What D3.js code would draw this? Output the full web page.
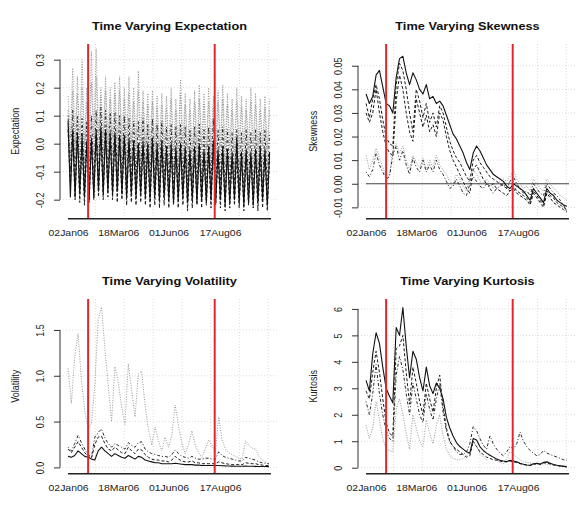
<!DOCTYPE html>
<html>
<head>
<meta charset="utf-8">
<script src="https://cdn.jsdelivr.net/npm/d3@7"></script>
<style>
  body { margin: 0; background: #fff; }
  text { font-family: "Liberation Sans", Arial, Helvetica, sans-serif; }
</style>
</head>
<body>
<svg id="canvas" width="580" height="521"></svg>
<script>
// dates
let startDate = "2006-01-02";
let endDate = "2006-11-01";
let tickDates = ["2006-01-02", "2006-03-18", "2006-06-01", "2006-08-17"];
let eventDates = ["2006-02-01", "2006-08-09"];
let gridDays = [41, 84, 127, 170, 213, 256, 299];

// spacing of the observations, in days
let expStep = 3.5;
let momentStep = 5;

// axis ticks and visible ranges
let expTicks = [-0.2, -0.1, 0, 0.1, 0.2, 0.3];
let skewTicks = [-0.01, 0, 0.01, 0.02, 0.03, 0.04, 0.05];
let volTicks = [0, 0.5, 1, 1.5];
let kurtTicks = [0, 1, 2, 3, 4, 5, 6];
let expRange = [-0.268, 0.356];
let skewRange = [-0.0148, 0.0592];
let volRange = [-0.069, 1.838];
let kurtRange = [-0.227, 6.375];

// expectation (weekly swings)
let expSolid = [
  0.08, -0.19, 0.05, -0.19, 0.04, -0.18, 0.03, -0.19, 0.01, -0.20,
  0.02, -0.19, 0.05, -0.17, 0.06, -0.18, 0.05, -0.17, 0.04, -0.18,
  0.04, -0.17, 0.03, -0.18, 0.03, -0.19, 0.02, -0.18, 0.01, -0.19,
  0.00, -0.18, 0.01, -0.19, 0.00, -0.20, 0.02, -0.19, 0.00, -0.20,
  0.01, -0.19, -0.01, -0.20, 0.00, -0.21, -0.01, -0.20, 0.00, -0.19,
  -0.01, -0.21, -0.02, -0.20, -0.01, -0.21, 0.00, -0.20, -0.02, -0.21,
  -0.01, -0.20, 0.01, -0.21, -0.02, -0.20, -0.01, -0.22, -0.02, -0.21,
  -0.03, -0.20, 0.02, -0.21, -0.03, -0.22, -0.02, -0.21, -0.03, -0.22,
  -0.02, -0.21, -0.01, -0.20, -0.02, -0.22, -0.03
];
let expDashed = [
  0.05, -0.15, 0.03, -0.20, 0.02, -0.21, 0.00, -0.22, -0.01, -0.21,
  0.01, -0.20, 0.03, -0.19, 0.04, -0.20, 0.03, -0.19, 0.02, -0.20,
  0.03, -0.21, 0.01, -0.20, 0.02, -0.22, 0.00, -0.21, -0.01, -0.22,
  0.00, -0.21, -0.01, -0.22, -0.02, -0.23, 0.00, -0.22, -0.02, -0.23,
  -0.01, -0.22, -0.03, -0.23, -0.02, -0.22, -0.03, -0.23, -0.02, -0.22,
  -0.03, -0.24, -0.04, -0.23, -0.03, -0.22, -0.02, -0.23, -0.04, -0.22,
  -0.03, -0.23, 0.00, -0.22, -0.04, -0.23, -0.03, -0.24, -0.04, -0.23,
  -0.05, -0.22, -0.04, -0.23, -0.05, -0.24, -0.04, -0.22, -0.05, -0.23,
  -0.04, -0.24, -0.05, -0.23, -0.04, -0.24, -0.05
];
let expDotDash = [
  0.10, -0.10, 0.12, -0.12, 0.10, -0.13, 0.09, -0.14, 0.08, -0.15,
  0.10, -0.13, 0.12, -0.11, 0.13, -0.12, 0.12, -0.11, 0.11, -0.12,
  0.11, -0.11, 0.10, -0.12, 0.10, -0.13, 0.09, -0.12, 0.08, -0.13,
  0.08, -0.12, 0.09, -0.13, 0.07, -0.14, 0.09, -0.13, 0.07, -0.14,
  0.08, -0.13, 0.06, -0.14, 0.07, -0.15, 0.06, -0.14, 0.07, -0.13,
  0.06, -0.15, 0.05, -0.14, 0.06, -0.15, 0.07, -0.14, 0.05, -0.15,
  0.06, -0.14, 0.09, -0.15, 0.05, -0.14, 0.06, -0.16, 0.05, -0.15,
  0.04, -0.14, 0.05, -0.15, 0.04, -0.16, 0.05, -0.15, 0.04, -0.16,
  0.05, -0.15, 0.04, -0.16, 0.05, -0.15, 0.04
];
let expDotted1 = [
  0.17, 0.02, 0.27, 0.00, 0.24, 0.01, 0.30, -0.01, 0.20, 0.00,
  0.33, 0.02, 0.34, 0.03, 0.20, 0.02, 0.24, 0.01, 0.20, 0.02,
  0.22, 0.01, 0.24, 0.00, 0.20, 0.01, 0.24, 0.00, 0.20, -0.01,
  0.26, 0.00, 0.19, -0.01, 0.18, -0.02, 0.19, -0.01, 0.17, -0.02,
  0.18, -0.01, 0.17, -0.02, 0.20, -0.03, 0.16, -0.02, 0.23, -0.01,
  0.18, -0.02, 0.16, -0.03, 0.19, -0.02, 0.21, -0.01, 0.18, -0.02,
  0.20, -0.01, 0.17, -0.02, 0.19, -0.01, 0.21, -0.02, 0.18, -0.01,
  0.16, -0.03, 0.20, -0.02, 0.17, -0.01, 0.16, -0.02, 0.20, -0.01,
  0.18, -0.02, 0.16, -0.01, 0.17, -0.02, 0.16
];
let expDotted2 = [
  0.12, -0.05, 0.19, -0.06, 0.18, -0.05, 0.20, -0.07, 0.15, -0.06,
  0.22, -0.04, 0.24, -0.03, 0.17, -0.04, 0.19, -0.05, 0.16, -0.04,
  0.18, -0.05, 0.19, -0.06, 0.16, -0.05, 0.18, -0.06, 0.15, -0.07,
  0.19, -0.06, 0.15, -0.07, 0.14, -0.08, 0.15, -0.07, 0.13, -0.08,
  0.14, -0.07, 0.13, -0.08, 0.16, -0.09, 0.12, -0.08, 0.18, -0.07,
  0.14, -0.08, 0.12, -0.09, 0.15, -0.08, 0.16, -0.07, 0.14, -0.08,
  0.15, -0.07, 0.13, -0.08, 0.15, -0.07, 0.16, -0.08, 0.14, -0.07,
  0.12, -0.09, 0.15, -0.08, 0.13, -0.07, 0.12, -0.08, 0.15, -0.07,
  0.14, -0.08, 0.12, -0.07, 0.13, -0.08, 0.12
];

// skewness
let skewSolid = [
  0.038, 0.034, 0.037, 0.046, 0.048, 0.041, 0.034, 0.033, 0.030, 0.045,
  0.053, 0.054, 0.047, 0.042, 0.047, 0.044, 0.040, 0.038, 0.042, 0.036,
  0.037, 0.034, 0.035, 0.033, 0.029, 0.025, 0.021, 0.019, 0.016, 0.013,
  0.009, 0.006, 0.013, 0.016, 0.014, 0.011, 0.008, 0.006, 0.004, 0.003,
  0.002, 0.001, -0.001, -0.002, 0.000, -0.001, -0.002, -0.003, -0.005, -0.007,
  -0.002, -0.004, -0.006, -0.008, -0.002, -0.004, -0.005, -0.007, -0.008, -0.009,
  -0.0095
];
let skewDashed1 = [
  0.034, 0.028, 0.036, 0.042, 0.036, 0.027, 0.020, 0.017, 0.016, 0.042,
  0.051, 0.048, 0.040, 0.030, 0.022, 0.040, 0.035, 0.028, 0.034, 0.026,
  0.030, 0.024, 0.033, 0.030, 0.024, 0.018, 0.014, 0.011, 0.009, 0.006,
  0.003, 0.001, 0.010, 0.012, 0.009, 0.007, 0.005, 0.003, 0.002, 0.001,
  0.000, -0.001, -0.002, -0.003, -0.001, -0.003, -0.004, -0.005, -0.006, -0.008,
  -0.003, -0.005, -0.007, -0.009, -0.003, -0.005, -0.006, -0.008, -0.009, -0.010,
  -0.011
];
let skewDashed2 = [
  0.030, 0.026, 0.030, 0.040, 0.030, 0.022, 0.016, 0.013, 0.012, 0.035,
  0.046, 0.040, 0.030, 0.022, 0.018, 0.036, 0.030, 0.024, 0.029, 0.022,
  0.025, 0.020, 0.030, 0.027, 0.020, 0.014, 0.010, 0.007, 0.004, 0.001,
  -0.002, -0.004, 0.006, 0.008, 0.005, 0.002, 0.000, -0.001, 0.000, -0.002,
  -0.003, -0.004, -0.005, -0.003, -0.002, -0.004, -0.005, -0.006, -0.007, -0.009,
  -0.004, -0.006, -0.008, -0.010, -0.004, -0.006, -0.008, -0.009, -0.010, -0.011,
  -0.012
];
let skewDotted = [
  0.012, 0.006, 0.010, 0.015, 0.011, 0.007, 0.003, 0.004, 0.014, 0.017,
  0.013, 0.016, 0.010, 0.006, 0.012, 0.009, 0.007, 0.011, 0.006, 0.010,
  0.007, 0.012, 0.008, 0.006, 0.004, 0.001, 0.000, 0.004, 0.002, -0.001,
  -0.003, 0.003, 0.006, 0.004, 0.001, 0.000, 0.002, 0.000, -0.002, 0.000,
  0.001, 0.002, 0.001, 0.003, 0.006, 0.002, 0.000, -0.002, -0.001, -0.003,
  0.002, 0.000, -0.002, -0.003, 0.002, 0.000, -0.002, -0.003, -0.005, -0.006,
  -0.007
];
let skewDotDash = [
  0.005, 0.003, 0.006, 0.013, 0.008, 0.005, 0.002, 0.003, 0.012, 0.016,
  0.010, 0.014, 0.008, 0.004, 0.011, 0.007, 0.005, 0.010, 0.005, 0.008,
  0.005, 0.010, 0.006, 0.004, 0.001, -0.002, -0.001, 0.002, -0.001, -0.004,
  -0.005, 0.000, 0.003, 0.001, -0.001, -0.002, 0.000, -0.002, -0.004, -0.002,
  -0.001, 0.000, -0.002, 0.001, 0.003, 0.000, -0.002, -0.004, -0.003, -0.005,
  0.000, -0.002, -0.004, -0.005, 0.000, -0.002, -0.004, -0.005, -0.007, -0.009,
  -0.012
];

// volatility
let volSolid = [
  0.12, 0.11, 0.13, 0.18, 0.15, 0.12, 0.11, 0.09, 0.08, 0.18,
  0.22, 0.18, 0.15, 0.12, 0.15, 0.13, 0.11, 0.10, 0.13, 0.11,
  0.09, 0.12, 0.11, 0.08, 0.07, 0.06, 0.05, 0.05, 0.04, 0.04,
  0.04, 0.04, 0.045, 0.04, 0.035, 0.03, 0.03, 0.03, 0.025, 0.025,
  0.02, 0.02, 0.02, 0.02, 0.02, 0.02, 0.018, 0.016, 0.015, 0.014,
  0.013, 0.012, 0.012, 0.014, 0.013, 0.012, 0.011, 0.01, 0.01, 0.009,
  0.008
];
let volDashed = [
  0.20, 0.16, 0.22, 0.28, 0.22, 0.16, 0.12, 0.10, 0.25, 0.33,
  0.34, 0.26, 0.20, 0.18, 0.22, 0.19, 0.16, 0.15, 0.22, 0.18,
  0.15, 0.20, 0.19, 0.14, 0.11, 0.09, 0.08, 0.08, 0.07, 0.07,
  0.06, 0.08, 0.12, 0.09, 0.07, 0.06, 0.06, 0.07, 0.05, 0.05,
  0.04, 0.04, 0.04, 0.04, 0.04, 0.06, 0.05, 0.04, 0.035, 0.03,
  0.03, 0.03, 0.03, 0.05, 0.045, 0.04, 0.04, 0.03, 0.025, 0.02,
  0.02
];
let volDotDash = [
  0.22, 0.18, 0.26, 0.35, 0.27, 0.20, 0.14, 0.11, 0.33, 0.38,
  0.42, 0.32, 0.26, 0.22, 0.26, 0.24, 0.22, 0.20, 0.27, 0.24,
  0.22, 0.27, 0.28, 0.20, 0.17, 0.15, 0.14, 0.13, 0.12, 0.12,
  0.11, 0.14, 0.19, 0.15, 0.12, 0.11, 0.10, 0.12, 0.10, 0.09,
  0.09, 0.10, 0.10, 0.09, 0.09, 0.17, 0.13, 0.11, 0.10, 0.09,
  0.08, 0.07, 0.07, 0.11, 0.10, 0.09, 0.08, 0.06, 0.05, 0.045,
  0.04
];
let volDotted = [
  1.08, 0.70, 1.21, 1.46, 0.95, 0.62, 0.42, 0.48, 0.90, 1.62,
  1.75, 1.30, 0.90, 0.50, 1.10, 0.93, 0.66, 0.47, 1.13, 0.84,
  0.55, 1.02, 1.05, 0.68, 0.42, 0.24, 0.44, 0.29, 0.18, 0.33,
  0.22, 0.35, 0.68, 0.45, 0.26, 0.15, 0.25, 0.40, 0.24, 0.16,
  0.11, 0.20, 0.30, 0.24, 0.16, 0.55, 0.30, 0.20, 0.16, 0.14,
  0.12, 0.10, 0.09, 0.29, 0.24, 0.21, 0.20, 0.12, 0.08, 0.06,
  0.03
];

// kurtosis
let kurtSolid = [
  3.3, 2.9, 4.3, 5.1, 4.7, 3.8, 3.0, 2.7, 2.45, 5.3,
  5.0, 6.05, 4.6, 3.4, 4.4, 4.1, 3.4, 2.9, 3.8, 3.1,
  2.8, 3.2, 3.0, 2.6, 1.9, 1.5, 1.2, 0.95, 0.8, 0.7,
  0.6, 0.55, 1.1, 1.05, 0.8, 0.65, 0.55, 0.47, 0.4, 0.33,
  0.28, 0.25, 0.23, 0.28, 0.25, 0.22, 0.17, 0.13, 0.1, 0.09,
  0.15, 0.17, 0.14, 0.2, 0.22, 0.17, 0.12, 0.09, 0.07, 0.05,
  0.03
];
let kurtDashed = [
  2.9, 2.6, 3.6, 4.4, 3.6, 2.6, 1.7, 1.3, 1.2, 4.5,
  4.6, 5.0, 3.6, 2.4, 3.8, 3.2, 2.5, 2.0, 3.2, 2.6,
  2.1, 3.0, 3.5, 2.3, 1.5, 1.0, 0.8, 0.7, 0.6, 0.5,
  0.4, 0.45, 1.0, 0.8, 0.6, 0.5, 0.4, 0.35, 0.3, 0.28,
  0.25, 0.22, 0.22, 0.25, 0.22, 0.2, 0.15, 0.12, 0.1, 0.08,
  0.12, 0.15, 0.12, 0.18, 0.18, 0.14, 0.1, 0.08, 0.06, 0.05,
  0.04
];
let kurtDotDash = [
  2.5, 2.0, 2.8, 3.9, 2.8, 2.0, 1.4, 1.1, 1.0, 3.5,
  4.2, 3.7, 2.8, 2.0, 3.2, 2.6, 2.0, 1.7, 2.8, 2.2,
  1.8, 2.6, 3.2, 2.1, 1.4, 1.0, 0.8, 0.6, 0.5, 0.5,
  0.6, 0.9, 1.55, 1.4, 1.1, 0.85, 0.7, 1.2, 0.9, 0.7,
  0.55, 0.45, 0.6, 0.8, 0.7, 0.9, 1.35, 1.0, 0.8, 0.65,
  0.55, 0.45, 0.5, 0.65, 0.55, 0.5, 0.45, 0.4, 0.35, 0.3,
  0.28
];
let kurtDotted = [
  1.6, 1.1, 1.5, 2.5, 1.8, 1.1, 0.7, 0.65, 0.6, 2.2,
  2.6, 2.0, 1.3, 0.7, 2.0, 1.5, 1.0, 0.8, 1.8, 1.3,
  0.9, 1.6, 2.0, 1.2, 0.7, 0.45, 0.35, 0.3, 0.3, 0.35,
  0.45, 0.6, 1.0, 0.8, 0.55, 0.4, 0.3, 0.5, 0.4, 0.3,
  0.2, 0.15, 0.35, 0.6, 0.5, 0.4, 0.3, 0.22, 0.2, 0.18,
  0.15, 0.12, 0.12, 0.15, 0.13, 0.12, 0.1, 0.09, 0.08, 0.07,
  0.06
];

let canvas = d3.select("#canvas");
let parseDate = d3.utcParse("%Y-%m-%d");
let day0 = parseDate(startDate);
let toDate = (d) => new Date(day0.getTime() + d * 864e5);
let lastDay = (parseDate(endDate) - day0) / 864e5;

let lineStyles = {
  solid: { dash: null, color: "#111", width: 1.1 },
  dashed: { dash: "3,2", color: "#1a1a1a", width: 1 },
  dotdash: { dash: "1,2,3,2", color: "#2a2a2a", width: 1 },
  dotted: { dash: "1,1.5", color: "#8c8c8c", width: 0.9 }
};

let plotW = 219;
let plotH = 174.7;
let stretch = "scale(1.16,1)";

let panels = [
  {
    title: "Time Varying Expectation", ylab: "Expectation", left: 60, top: 44,
    step: expStep, range: expRange, ticks: expTicks, fmt: ".1f", zero: false,
    series: [[expDotted1, "dotted"], [expDotted2, "dotted"], [expDotDash, "dotdash"],
             [expDashed, "dashed"], [expSolid, "solid"]]
  },
  {
    title: "Time Varying Skewness", ylab: "Skewness", left: 358, top: 44,
    step: momentStep, range: skewRange, ticks: skewTicks, fmt: ".2f", zero: true,
    series: [[skewDotted, "dotted"], [skewDotDash, "dotdash"], [skewDashed2, "dashed"],
             [skewDashed1, "dashed"], [skewSolid, "solid"]]
  },
  {
    title: "Time Varying Volatility", ylab: "Volatility", left: 60, top: 299,
    step: momentStep, range: volRange, ticks: volTicks, fmt: ".1f", zero: false,
    series: [[volDotted, "dotted"], [volDotDash, "dotdash"], [volDashed, "dashed"],
             [volSolid, "solid"]]
  },
  {
    title: "Time Varying Kurtosis", ylab: "Kurtosis", left: 358, top: 299,
    step: momentStep, range: kurtRange, ticks: kurtTicks, fmt: "d", zero: false,
    series: [[kurtDotted, "dotted"], [kurtDotDash, "dotdash"], [kurtDashed, "dashed"],
             [kurtSolid, "solid"]]
  }
];

let drawPanel = (panel) => {
  let g = canvas.append("g");
  let bottom = panel.top + plotH;

  let x = d3.scaleUtc()
    .domain([toDate(-12), toDate(315)])
    .range([panel.left, panel.left + plotW]);
  let y = d3.scaleLinear()
    .domain(panel.range)
    .range([bottom, panel.top]);

  // faint dotted grid
  let grid = g.append("g")
    .attr("stroke", "#d4d4d4")
    .attr("stroke-width", 0.8)
    .attr("stroke-dasharray", "1,2");
  grid.selectAll(".hgrid")
    .data(panel.ticks)
    .enter()
    .append("line")
    .attr("x1", panel.left)
    .attr("x2", panel.left + plotW)
    .attr("y1", (t) => y(t))
    .attr("y2", (t) => y(t));
  grid.selectAll(".vgrid")
    .data(gridDays)
    .enter()
    .append("line")
    .attr("x1", (d) => x(toDate(d)))
    .attr("x2", (d) => x(toDate(d)))
    .attr("y1", panel.top)
    .attr("y2", bottom);

  if (panel.zero) {
    g.append("line")
      .attr("x1", x(toDate(0)))
      .attr("x2", x(toDate(lastDay)))
      .attr("y1", y(0))
      .attr("y2", y(0))
      .attr("stroke", "#444")
      .attr("stroke-width", 1);
  }

  // series
  panel.series.forEach(([values, kind]) => {
    let style = lineStyles[kind];
    let line = d3.line()
      .x((v, i) => x(toDate(i * panel.step)))
      .y((v) => y(v));
    g.append("path")
      .attr("d", line(values))
      .attr("fill", "none")
      .attr("stroke", style.color)
      .attr("stroke-width", style.width)
      .attr("stroke-dasharray", style.dash)
      .attr("stroke-linejoin", "round");
  });

  // event markers
  g.selectAll(".event")
    .data(eventDates)
    .enter()
    .append("line")
    .attr("x1", (d) => x(parseDate(d)))
    .attr("x2", (d) => x(parseDate(d)))
    .attr("y1", panel.top)
    .attr("y2", bottom)
    .attr("stroke", "#e3262b")
    .attr("stroke-width", 2);

  // y axis
  let fmt = d3.format(panel.fmt);
  let yAxis = g.append("g")
    .attr("transform", "translate(" + panel.left + ",0)")
    .call(d3.axisLeft(y).tickValues(panel.ticks).tickSize(6)
      .tickFormat((t) => fmt(t).replace("\u2212", "-")))
    .attr("font-family", null)
    .attr("font-size", 9);
  yAxis.select(".domain").remove();
  yAxis.selectAll(".tick line").attr("stroke", "#333");
  yAxis.selectAll(".tick text")
    .attr("x", null)
    .attr("dy", null)
    .attr("fill", "#222")
    .attr("text-anchor", "middle")
    .attr("transform", "translate(-16,0) " + stretch + " rotate(-90)");
  yAxis.append("line")
    .attr("y1", y(panel.ticks[0]))
    .attr("y2", y(panel.ticks[panel.ticks.length - 1]))
    .attr("stroke", "#333");

  // x axis
  let xAxis = g.append("g")
    .attr("transform", "translate(0," + bottom + ")")
    .call(d3.axisBottom(x).tickValues(tickDates.map(parseDate)).tickSize(0)
      .tickFormat(d3.utcFormat("%d%b%y")))
    .attr("font-family", null)
    .attr("font-size", 9);
  xAxis.select(".domain").remove();
  xAxis.selectAll(".tick text")
    .attr("y", null)
    .attr("dy", null)
    .attr("fill", "#222")
    .attr("transform", "translate(0,17) " + stretch);
  xAxis.append("line")
    .attr("x1", x(toDate(0)))
    .attr("x2", x(toDate(lastDay)))
    .attr("stroke", "#222")
    .attr("stroke-width", 1.6);

  // titles
  g.append("text")
    .attr("transform", "translate(" + (panel.left + plotW / 2) + "," + (panel.top - 14) + ") " + stretch)
    .attr("text-anchor", "middle")
    .attr("font-size", 11)
    .attr("font-weight", "bold")
    .attr("fill", "#111")
    .text(panel.title);

  g.append("text")
    .attr("transform", "translate(" + (panel.left - 41.5) + "," + (panel.top + plotH / 2) + ") " + stretch + " rotate(-90)")
    .attr("text-anchor", "middle")
    .attr("font-size", 9)
    .attr("fill", "#222")
    .text(panel.ylab);
};

panels.forEach(drawPanel);
</script>
</body>
</html>
